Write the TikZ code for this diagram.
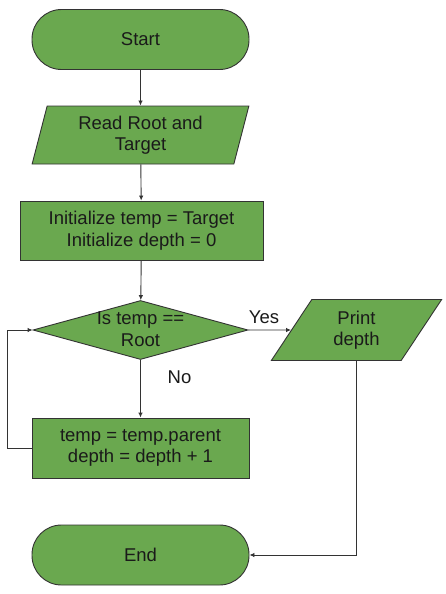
\documentclass[tikz,border=0pt]{standalone}
\usepackage{fontspec}
\setmainfont{Liberation Sans}
\usetikzlibrary{shapes.geometric,arrows.meta}
\definecolor{boxgreen}{HTML}{6AA84F}
\definecolor{edgegray}{HTML}{333333}
\definecolor{txt}{HTML}{1A1A1A}
\tikzset{
  txtfont/.style={font=\fontsize{18.5}{21.5}\selectfont, text=txt, align=center},
  base/.style={txtfont, draw=edgegray, line width=0.9pt, fill=boxgreen, inner sep=0pt},
  terminal/.style={base, rectangle, rounded corners=29.5pt, minimum width=217pt, minimum height=60pt},
  procbox/.style={base, rectangle, minimum height=60pt},
  iobox/.style={base, trapezium, trapezium stretches=true},
  decision/.style={base, diamond, minimum width=215pt, minimum height=59pt},
  conn/.style={draw=edgegray, line width=0.9pt, -{Latex[length=5pt,width=4.5pt]}},
  lbl/.style={txtfont, inner sep=0pt}
}
\begin{document}
\begin{tikzpicture}[x=1pt,y=-1pt]
\useasboundingbox[fill=white] (0,0) rectangle (445,594);
\node[terminal] (start) at (140.5,39.5) {Start};
\node[iobox, trapezium left angle=75.5, trapezium right angle=104.5, minimum width=217pt, minimum height=58pt] (read) at (140.5,135) {Read Root and\\Target};
\node[procbox, minimum width=243pt, minimum height=59pt] (init) at (141.5,230.5) {Initialize temp = Target\\Initialize depth = 0};
\node[decision] (dia) at (140.5,330) {};
\node[lbl] (diatext) at (140.5,329) {Is temp ==\\Root};
\node[iobox, trapezium left angle=61.6, trapezium right angle=118.4, minimum width=171pt, minimum height=61pt] (print) at (356.5,330) {Print\\depth};
\node[procbox, minimum width=217pt] (temp) at (140.5,448) {temp = temp.parent\\depth = depth + 1};
\node[terminal] (end) at (140.5,555) {End};
\node[lbl] (yes) at (264,317) {Yes};
\node[lbl] (no) at (179.5,377) {No};
\coordinate (loopx) at (7.5,448);
\draw[conn] (start) -- (read);
\draw[conn] (read) -- (init);
\draw[conn] (init) -- (dia);
\draw[conn] (dia.east) -- (print);
\draw[conn] (dia) -- (temp);
\draw[conn] (temp.west) -- (loopx) |- (dia.west);
\draw[conn] (print.south) |- (end.east);
\end{tikzpicture}
\end{document}
